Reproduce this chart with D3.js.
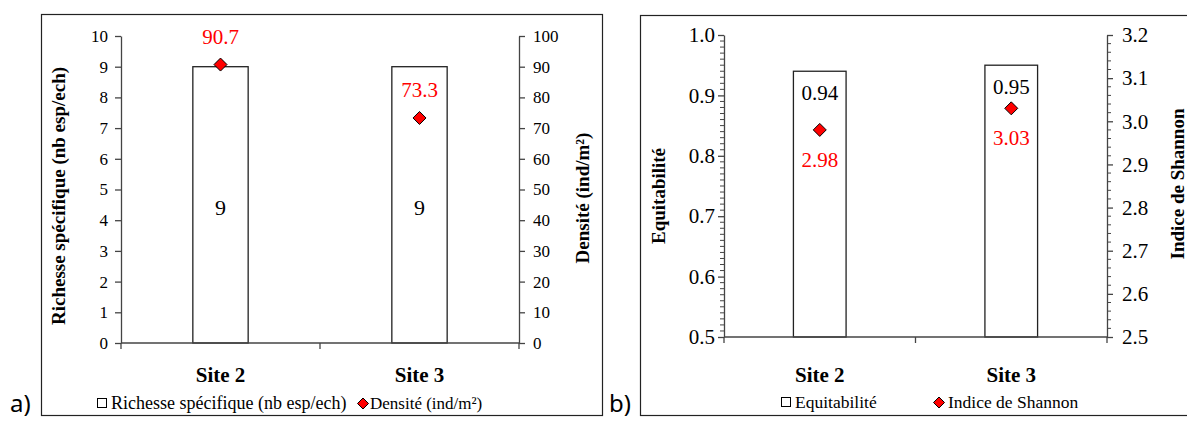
<!DOCTYPE html>
<html>
<head>
<meta charset="utf-8">
<script src="https://cdn.jsdelivr.net/npm/d3@7"></script>
<style>
  body { margin: 0; background: #fff; }
  svg { display: block; }
  .serif, .serif text { font-family: "Liberation Serif", "Times New Roman", "DejaVu Serif", serif; }
  .serif text.sans { font-family: "Noto Sans", "DejaVu Sans", sans-serif; }
</style>
</head>
<body>
<svg id="chart" width="1187" height="421" class="serif"></svg>
<script>
// ---- Data ----
const sites = ["Site 2", "Site 3"];
const richesse = [9, 9];            // nb esp/ech
const densite = [90.7, 73.3];       // ind/m²
const equitabilite = [0.94, 0.95];
const shannon = [2.98, 3.03];

const richesseTicks = [0, 1, 2, 3, 4, 5, 6, 7, 8, 9, 10];
const densiteTicks = [0, 10, 20, 30, 40, 50, 60, 70, 80, 90, 100];
const equitTicks = [0.5, 0.6, 0.7, 0.8, 0.9, 1.0];
const shannonTicks = [2.5, 2.6, 2.7, 2.8, 2.9, 3.0, 3.1, 3.2];

const titlesA = ["Richesse spécifique (nb esp/ech)", "Densité (ind/m²)"];
const titlesB = ["Equitabilité", "Indice de Shannon"];

// ---- Styles ----
const axisColor = "#444";
const red = "#ff0000";

const svg = d3.select("#chart");

function styleAxis(g, fontSize) {
  g.attr("font-family", null).attr("class", "serif").attr("font-size", fontSize);
  g.selectAll("path.domain").attr("stroke", axisColor).attr("stroke-width", 1.3);
  g.selectAll(".tick line").attr("stroke", axisColor).attr("stroke-width", 1.3);
  g.selectAll(".tick text").attr("fill", "#000");
}

function diamond(sel, cx, cy, r) {
  sel.append("path")
    .attr("d", `M${cx},${cy - r}L${cx + r},${cy}L${cx},${cy + r}L${cx - r},${cy}Z`)
    .attr("fill", red).attr("stroke", "#000").attr("stroke-width", 1);
}

function categoryAxis(g, x, y0) {
  const [r0, r1] = x.range();
  g.append("line").attr("x1", r0).attr("x2", r1).attr("y1", y0).attr("y2", y0)
    .attr("stroke", axisColor).attr("stroke-width", 1.3);
  const bounds = [r0, ...x.domain().slice(1).map(d => x(d)), r1];
  g.selectAll(null).data(bounds).join("line")
    .attr("x1", d => d).attr("x2", d => d).attr("y1", y0).attr("y2", y0 + 6)
    .attr("stroke", axisColor).attr("stroke-width", 1.3);
  g.selectAll(null).data(x.domain()).join("text")
    .attr("x", d => x(d) + x.bandwidth() / 2).attr("y", 382)
    .attr("text-anchor", "middle")
    .attr("font-weight", "bold").attr("font-size", 21).text(d => d);
}

function rotatedTitle(g, text, x, y) {
  g.append("text")
    .attr("transform", `translate(${x},${y}) rotate(-90)`)
    .attr("text-anchor", "middle")
    .attr("font-weight", "bold").attr("font-size", 19).text(text);
}

// ================= Panel a =================
const gA = svg.append("g");
gA.append("rect").attr("x", 41.5).attr("y", 14.5).attr("width", 561).attr("height", 401)
  .attr("fill", "#fff").attr("stroke", "#222").attr("stroke-width", 1.2);

const xA = d3.scaleBand().domain(sites).range([121, 519]);
const yA = d3.scaleLinear().domain([0, 10]).range([343, 36]);
const yA2 = d3.scaleLinear().domain([0, 100]).range([343, 36]);
const barWA = xA.bandwidth() * 0.278;

// bars: richesse
gA.selectAll(null).data(sites).join("rect")
  .attr("x", d => xA(d) + (xA.bandwidth() - barWA) / 2)
  .attr("y", (d, i) => yA(richesse[i]))
  .attr("width", barWA)
  .attr("height", (d, i) => yA(0) - yA(richesse[i]))
  .attr("fill", "#fff").attr("stroke", "#222").attr("stroke-width", 1.3);

gA.selectAll(null).data(sites).join("text")
  .attr("x", d => xA(d) + xA.bandwidth() / 2)
  .attr("y", (d, i) => yA(richesse[i] / 2) + 10)
  .attr("text-anchor", "middle").attr("font-size", 22)
  .text((d, i) => richesse[i]);

// axes
gA.append("g").attr("transform", "translate(121,0)")
  .call(d3.axisLeft(yA).tickValues(richesseTicks).tickSize(6).tickSizeOuter(0).tickPadding(7).tickFormat(d3.format("d")))
  .call(g => styleAxis(g, 17));
gA.append("g").attr("transform", "translate(519,0)")
  .call(d3.axisRight(yA2).tickValues(densiteTicks).tickSize(6).tickSizeOuter(0).tickPadding(8).tickFormat(d3.format("d")))
  .call(g => styleAxis(g, 17));
categoryAxis(gA, xA, yA(0));

// density points
sites.forEach((s, i) => {
  const cx = xA(s) + xA.bandwidth() / 2, cy = yA2(densite[i]);
  diamond(gA, cx, cy, 6.5);
  gA.append("text").attr("x", cx).attr("y", cy - 21)
    .attr("text-anchor", "middle").attr("font-size", 21)
    .attr("fill", red).text(d3.format(".1f")(densite[i]));
});

rotatedTitle(gA, titlesA[0], 65, 196);
rotatedTitle(gA, titlesA[1], 589, 198);

// legend
gA.append("rect").attr("x", 97.5).attr("y", 398.5).attr("width", 9).attr("height", 9)
  .attr("fill", "#fff").attr("stroke", "#000").attr("stroke-width", 1);
gA.append("text").attr("x", 111).attr("y", 409).attr("font-size", 18).text(titlesA[0]);
diamond(gA, 363, 403.5, 5.5);
gA.append("text").attr("x", 370).attr("y", 409).attr("font-size", 17).text(titlesA[1]);

svg.append("text").attr("class", "sans").attr("x", 10).attr("y", 412).attr("font-size", 24).text("a)");

// ================= Panel b =================
const gB = svg.append("g");
gB.append("rect").attr("x", 640.5).attr("y", 15.5).attr("width", 600).attr("height", 400)
  .attr("fill", "#fff").attr("stroke", "#222").attr("stroke-width", 1.2);

const xB = d3.scaleBand().domain(sites).range([724, 1107]);
const yB = d3.scaleLinear().domain([0.5, 1.0]).range([337, 35]);
const yB2 = d3.scaleLinear().domain([2.5, 3.2]).range([337, 35]);
const barWB = xB.bandwidth() * 0.275;

gB.selectAll(null).data(sites).join("rect")
  .attr("x", d => xB(d) + (xB.bandwidth() - barWB) / 2)
  .attr("y", (d, i) => yB(equitabilite[i]))
  .attr("width", barWB)
  .attr("height", (d, i) => yB(0.5) - yB(equitabilite[i]))
  .attr("fill", "#fff").attr("stroke", "#222").attr("stroke-width", 1.3);

gB.selectAll(null).data(sites).join("text")
  .attr("x", d => xB(d) + xB.bandwidth() / 2)
  .attr("y", (d, i) => yB(equitabilite[i]) + 29)
  .attr("text-anchor", "middle").attr("font-size", 21)
  .text((d, i) => d3.format(".2f")(equitabilite[i]));

// minor ticks
const isMajor = v => Math.abs(v * 10 - Math.round(v * 10)) < 1e-6;
gB.append("g").selectAll("line").data(yB.ticks(50).filter(v => !isMajor(v))).join("line")
  .attr("x1", 720).attr("x2", 724).attr("y1", d => yB(d)).attr("y2", d => yB(d))
  .attr("stroke", axisColor).attr("stroke-width", 1);
gB.append("g").selectAll("line").data(yB2.ticks(35).filter(v => !isMajor(v))).join("line")
  .attr("x1", 1107).attr("x2", 1111).attr("y1", d => yB2(d)).attr("y2", d => yB2(d))
  .attr("stroke", axisColor).attr("stroke-width", 1);

gB.append("g").attr("transform", "translate(724,0)")
  .call(d3.axisLeft(yB).tickValues(equitTicks).tickSize(6).tickSizeOuter(0).tickPadding(3).tickFormat(d3.format(".1f")))
  .call(g => styleAxis(g, 21));
gB.append("g").attr("transform", "translate(1107,0)")
  .call(d3.axisRight(yB2).tickValues(shannonTicks).tickSize(6).tickSizeOuter(0).tickPadding(9).tickFormat(d3.format(".1f")))
  .call(g => styleAxis(g, 21));
categoryAxis(gB, xB, yB(0.5));

sites.forEach((s, i) => {
  const cx = xB(s) + xB.bandwidth() / 2, cy = yB2(shannon[i]);
  diamond(gB, cx, cy, 6.5);
  gB.append("text").attr("x", cx).attr("y", cy + 37)
    .attr("text-anchor", "middle").attr("font-size", 21)
    .attr("fill", red).text(d3.format(".2f")(shannon[i]));
});

rotatedTitle(gB, titlesB[0], 665, 196);
rotatedTitle(gB, titlesB[1], 1184, 184);

gB.append("rect").attr("x", 781.5).attr("y", 397.5).attr("width", 9).attr("height", 9)
  .attr("fill", "#fff").attr("stroke", "#000").attr("stroke-width", 1);
gB.append("text").attr("x", 795).attr("y", 408).attr("font-size", 17.5).text(titlesB[0]);
diamond(gB, 939, 402.5, 5.5);
gB.append("text").attr("x", 948).attr("y", 408).attr("font-size", 17.5).text(titlesB[1]);

svg.append("text").attr("class", "sans").attr("x", 609).attr("y", 412).attr("font-size", 24).text("b)");
</script>
</body>
</html>
